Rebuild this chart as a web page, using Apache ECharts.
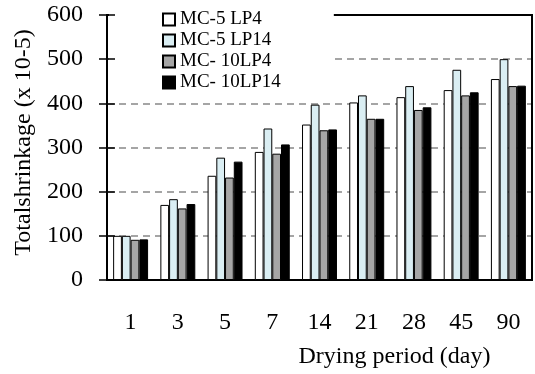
<!DOCTYPE html>
<html>
<head>
<meta charset="utf-8">
<script src="https://cdn.jsdelivr.net/npm/echarts@6/dist/echarts.min.js"></script>
<style>
html,body{margin:0;padding:0;background:#fff;overflow:hidden;}
#c{width:535px;height:374px;}
</style>
</head>
<body>
<div id="c"></div>
<script>
const categories = ['1', '3', '5', '7', '14', '21', '28', '45', '90'];
const seriesNames = ['MC-5 LP4', 'MC-5 LP14', 'MC- 10LP4', 'MC- 10LP14'];
const mc5lp4 = [100, 170, 236, 290, 352, 402, 414, 430, 455];
const mc5lp14 = [100, 183, 277, 343, 397, 418, 439, 476, 500];
const mc10lp4 = [91, 162, 232, 286, 339, 365, 385, 418, 439];
const mc10lp14 = [92, 172, 268, 307, 341, 365, 391, 425, 440];
const yMin = 0, yMax = 600, yStep = 100;

const FONT = "'Liberation Serif', 'Times New Roman', serif";
const colors = ['#ffffff', '#daeef3', '#a6a6a6', '#000000'];
const values = [mc5lp4, mc5lp14, mc10lp4, mc10lp14];

const chart = echarts.init(document.getElementById('c'), null, {renderer: 'canvas', width: 535, height: 374});
chart.setOption({
  animation: false,
  backgroundColor: '#ffffff',
  grid: {left: 107, right: 3, top: 15, bottom: 88, containLabel: false,
         show: true, borderColor: '#000', borderWidth: 2, backgroundColor: 'transparent'},
  legend: {
    orient: 'vertical', left: 109, top: 4,
    padding: [6, 53, 6, 53],
    itemWidth: 12, itemHeight: 12, itemGap: 2,
    backgroundColor: '#ffffff',
    icon: 'rect',
    data: seriesNames,
    textStyle: {fontFamily: FONT, fontSize: 19, color: '#000'}
  },
  xAxis: [{
    type: 'category', data: categories, position: 'bottom',
    axisLine: {onZero: false, lineStyle: {color: '#000', width: 2}},
    axisTick: {show: false},
    axisLabel: {fontFamily: FONT, fontSize: 24, color: '#000', margin: 31},
    name: 'Drying period (day)', nameLocation: 'middle', nameGap: 65,
    nameTextStyle: {fontFamily: FONT, fontSize: 24, color: '#000', padding: [0, 0, 0, 150]}
  }, {
    type: 'category', data: categories, position: 'top', z: 3,
    axisLine: {show: true, onZero: false, lineStyle: {color: '#000', width: 2}},
    axisTick: {show: false}, axisLabel: {show: false}, splitLine: {show: false}
  }],
  yAxis: [{
    type: 'value', min: yMin, max: yMax, interval: yStep, position: 'left',
    axisLine: {show: true, onZero: false, lineStyle: {color: '#000', width: 1.5}},
    axisTick: {show: true, length: 8, lineStyle: {color: '#000', width: 1.5}},
    axisLabel: {fontFamily: FONT, fontSize: 24, color: '#000', margin: 24},
    splitLine: {show: true, lineStyle: {color: '#888', width: 1.5, type: [7, 5]}},
    name: 'Totalshrinkage (x 10-5)', nameLocation: 'middle', nameGap: 70,
    nameTextStyle: {fontFamily: FONT, fontSize: 24, color: '#000', padding: [0, 0, 0, 10]}
  }, {
    type: 'value', min: yMin, max: yMax, interval: yStep, position: 'left', z: 5,
    axisLine: {show: false, onZero: false},
    axisTick: {show: true, inside: true, length: 8, lineStyle: {color: '#000', width: 1.5}},
    axisLabel: {show: false}, splitLine: {show: false}
  }, {
    type: 'value', min: yMin, max: yMax, interval: yStep, position: 'right', z: 6,
    axisLine: {show: true, onZero: false, lineStyle: {color: '#000', width: 2}},
    axisTick: {show: false}, axisLabel: {show: false}, splitLine: {show: false}
  }],
  series: seriesNames.map((name, i) => ({
    name: name, type: 'bar', data: values[i],
    xAxisIndex: 0, yAxisIndex: 0,
    barCategoryGap: '26%', barGap: '0%',
    itemStyle: {color: colors[i], borderColor: '#000', borderWidth: 1}
  }))
});
</script>
</body>
</html>
